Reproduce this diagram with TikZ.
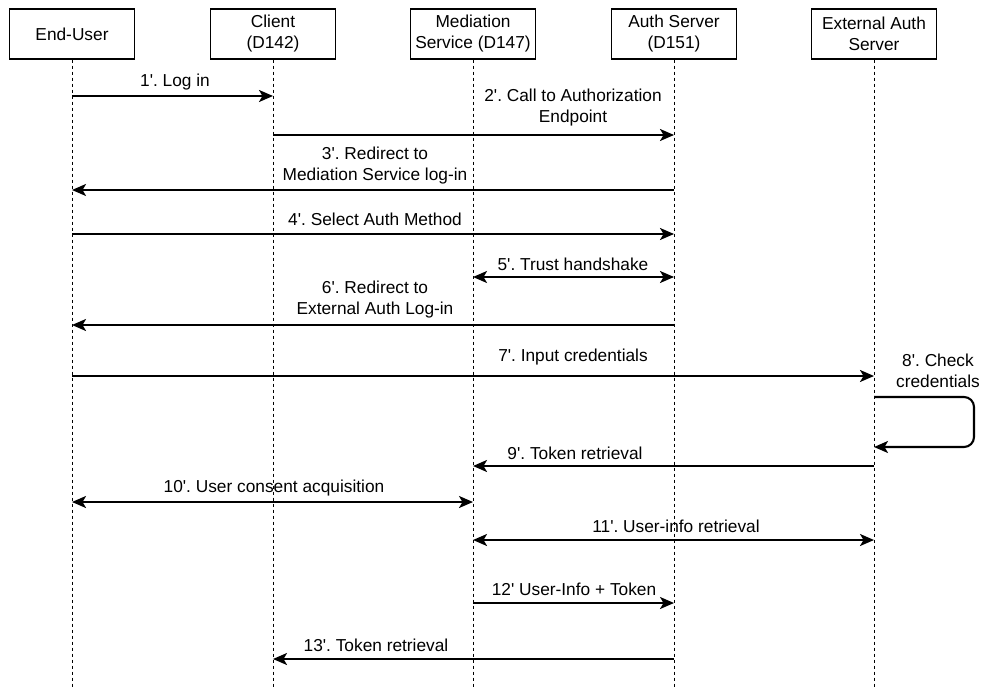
\documentclass[tikz,border=0pt]{standalone}
\usepackage{fontspec}
\setmainfont{Liberation Sans}
\usetikzlibrary{arrows.meta}
\newcommand{\ap}{\textquotesingle}
\frenchspacing
\begin{document}
\begin{tikzpicture}[x=1pt,y=-1pt,
  actor/.style={draw,line width=1.1pt,minimum width=125pt,minimum height=50pt,inner sep=0pt,align=center,font=\fontsize{17.3}{21}\selectfont},
  life/.style={line width=0.9pt,dash pattern=on 3pt off 3pt},
  tip/.tip={Stealth[length=14pt,width=12pt,inset=3.5pt]},
  msg/.style={line width=2.1pt,-tip},
  both/.style={line width=2.1pt,tip-tip},
  lbl/.style={align=center,inner sep=0pt,font=\fontsize{17.3}{21}\selectfont}]
\useasboundingbox (0,0) rectangle (981,687);
% participants
\node[actor] (eu) at (72,34) {End-User};
\node[actor] (cl) at (273,34) {Client\\(D142)};
\node[actor] (ms) at (473,34) {Mediation\\Service (D147)};
\node[actor] (as) at (674,34) {Auth Server\\(D151)};
\node[actor] (ex) at (874,34) {External Auth\\Server};
% lifeline ends
\coordinate (eub) at (72,687);
\coordinate (clb) at (273,687);
\coordinate (msb) at (473,687);
\coordinate (asb) at (674,687);
\coordinate (exb) at (874,687);
\draw[life] (eu.south) -- (eub);
\draw[life] (cl.south) -- (clb);
\draw[life] (ms.south) -- (msb);
\draw[life] (as.south) -- (asb);
\draw[life] (ex.south) -- (exb);
% messages
\draw[msg] (eu.south |- 0,96) -- (cl.south |- 0,96);
\node[lbl] at (175,82) {1\ap. Log in};
\draw[msg] (cl.south |- 0,135) -- (as.south |- 0,135);
\node[lbl] at (573,108) {2\ap. Call to Authorization\\Endpoint};
\draw[msg] (as.south |- 0,190) -- (eu.south |- 0,190);
\node[lbl] at (375,166) {3\ap. Redirect to\\Mediation Service log-in};
\draw[msg] (eu.south |- 0,234) -- (as.south |- 0,234);
\node[lbl] at (375,219) {4\ap. Select Auth Method};
\draw[both] (ms.south |- 0,277) -- (as.south |- 0,277);
\node[lbl] at (573,264) {5\ap. Trust handshake};
\draw[msg] (as.south |- 0,325) -- (eu.south |- 0,325);
\node[lbl] at (375,300) {6\ap. Redirect to\\External Auth Log-in};
\draw[msg] (eu.south |- 0,376) -- (ex.south |- 0,376);
\node[lbl] at (573,357) {7\ap. Input credentials};
\draw[msg,rounded corners=10pt] (ex.south |- 0,397) -- (974,397) -- (974,447) -- (ex.south |- 0,447);
\node[lbl] at (938,371) {8\ap. Check\\credentials};
\draw[msg] (ex.south |- 0,466) -- (ms.south |- 0,466);
\node[lbl] at (575,453) {9\ap. Token retrieval};
\draw[both] (eu.south |- 0,502) -- (ms.south |- 0,502);
\node[lbl] at (274,488) {10\ap. User consent acquisition};
\draw[both] (ms.south |- 0,540) -- (ex.south |- 0,540);
\node[lbl] at (676,526) {11\ap. User-info retrieval};
\draw[msg] (ms.south |- 0,603) -- (as.south |- 0,603);
\node[lbl] at (574,589) {12\ap\ User-Info + Token};
\draw[msg] (as.south |- 0,659) -- (cl.south |- 0,659);
\node[lbl] at (376,645) {13\ap. Token retrieval};
\end{tikzpicture}
\end{document}
